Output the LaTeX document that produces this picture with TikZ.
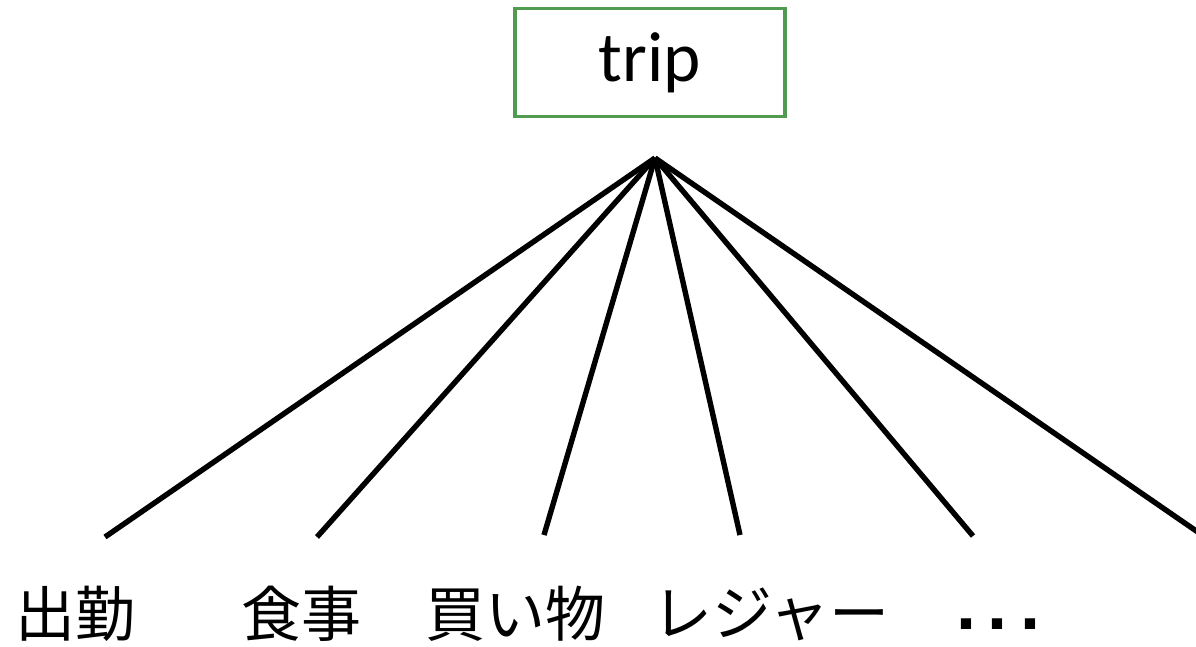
\documentclass[tikz,border=0pt]{standalone}
\usepackage{fontspec}
\setmainfont{Carlito}
\newfontfamily\cjk{Noto Sans CJK JP}
\newfontfamily\dotsfont{Liberation Sans Bold}
\definecolor{boxgreen}{RGB}{80,155,80}
\begin{document}
\begin{tikzpicture}[x=1pt,y=-1pt,
  topbox/.style={draw=boxgreen,line width=3.4pt,minimum width=270pt,minimum height=108pt,inner sep=0pt,font=\fontsize{71}{76}\selectfont},
  leaf/.style={font=\cjk\fontsize{60}{64}\selectfont,inner sep=0pt,anchor=center},
  conn/.style={line width=5.4pt,black}]
\useasboundingbox (0,0) rectangle (1196,646);
\node[topbox] (trip) at (650,62.5) {\raisebox{-4pt}{trip}};
\coordinate (apex) at (655,158);
\coordinate (e1) at (105,537);
\coordinate (e2) at (317,537);
\coordinate (e3) at (544,535);
\coordinate (e4) at (740,535);
\coordinate (e5) at (973,536);
\coordinate (e6) at (1205,537);
\foreach \i in {1,...,6} \draw[conn] (apex) -- (e\i);
\node[leaf] (l1) at (76,614) {出勤};
\node[leaf] (l2) at (301,614) {食事};
\node[leaf] (l3) at (515,614) {買い物};
\node[leaf] (l4) at (771,614) {レジャー};
\node[font=\dotsfont\fontsize{72}{76}\selectfont,inner sep=0pt,anchor=base] (l5) at (998,629) {.\kern12pt.\kern12pt.};
\end{tikzpicture}
\end{document}
